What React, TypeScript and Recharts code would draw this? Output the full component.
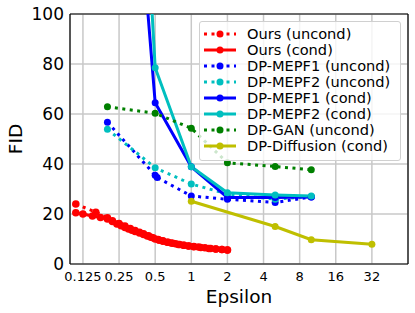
import React from "react";
import { LineChart, Line, XAxis, YAxis, CartesianGrid, ReferenceLine, Label } from "recharts";

const FONT = "'DejaVu Sans', sans-serif";

const epsTicks = [0.125, 0.25, 0.5, 1, 2, 4, 8, 16, 32];
const fidTicks = [0, 20, 40, 60, 80, 100];

type Pt = { eps: number; fid: number };

const oursUncond: Pt[] = [
  { eps: 0.109, fid: 24 }, { eps: 0.16, fid: 20.7 }, { eps: 0.2, fid: 18.5 }, { eps: 0.22, fid: 17.3 },
  { eps: 0.25, fid: 16.2 }, { eps: 0.28, fid: 15.2 }, { eps: 0.31, fid: 14.2 }, { eps: 0.34, fid: 13.4 },
  { eps: 0.37, fid: 12.7 }, { eps: 0.4, fid: 12.1 }, { eps: 0.44, fid: 11.3 }, { eps: 0.48, fid: 10.5 },
  { eps: 0.53, fid: 9.8 }, { eps: 0.58, fid: 9.3 }, { eps: 0.64, fid: 8.7 }, { eps: 0.7, fid: 8.3 },
  { eps: 0.78, fid: 7.8 }, { eps: 0.86, fid: 7.5 }, { eps: 0.95, fid: 7.2 }, { eps: 1.05, fid: 6.9 },
  { eps: 1.2, fid: 6.6 }, { eps: 1.4, fid: 6.2 }, { eps: 1.6, fid: 6.0 }, { eps: 1.8, fid: 5.8 },
  { eps: 2.0, fid: 5.6 },
];

const oursCond: Pt[] = [
  { eps: 0.109, fid: 20.5 }, { eps: 0.125, fid: 20.0 }, { eps: 0.15, fid: 19.2 }, { eps: 0.175, fid: 18.6 },
  { eps: 0.2, fid: 18.0 }, { eps: 0.22, fid: 17.0 }, { eps: 0.24, fid: 16.0 }, { eps: 0.26, fid: 15.3 },
  { eps: 0.28, fid: 14.6 }, { eps: 0.3, fid: 14.0 }, { eps: 0.32, fid: 13.5 }, { eps: 0.34, fid: 13.0 },
  { eps: 0.37, fid: 12.4 }, { eps: 0.4, fid: 11.8 }, { eps: 0.43, fid: 11.2 }, { eps: 0.46, fid: 10.7 },
  { eps: 0.5, fid: 10.0 }, { eps: 0.54, fid: 9.5 }, { eps: 0.58, fid: 9.1 }, { eps: 0.63, fid: 8.7 },
  { eps: 0.68, fid: 8.4 }, { eps: 0.74, fid: 8.1 }, { eps: 0.8, fid: 7.8 }, { eps: 0.87, fid: 7.5 },
  { eps: 0.95, fid: 7.2 }, { eps: 1.05, fid: 7.0 }, { eps: 1.15, fid: 6.8 }, { eps: 1.3, fid: 6.5 },
  { eps: 1.45, fid: 6.2 }, { eps: 1.6, fid: 6.0 }, { eps: 1.8, fid: 5.8 }, { eps: 2.0, fid: 5.6 },
];

const mepf1Uncond: Pt[] = [
  { eps: 0.2, fid: 56.7 }, { eps: 0.5, fid: 35.5 }, { eps: 0.52, fid: 34.6 }, { eps: 1, fid: 27.2 },
  { eps: 2, fid: 25.9 }, { eps: 5, fid: 24.6 }, { eps: 10, fid: 26.8 },
];

const mepf2Uncond: Pt[] = [
  { eps: 0.2, fid: 53.9 }, { eps: 0.5, fid: 38.5 }, { eps: 1, fid: 32.0 }, { eps: 2, fid: 28.0 },
  { eps: 5, fid: 25.9 }, { eps: 10, fid: 27.0 },
];

const mepf1Cond: Pt[] = [
  { eps: 0.2, fid: 300 }, { eps: 0.5, fid: 64.5 }, { eps: 1, fid: 38.9 }, { eps: 2, fid: 26.6 },
  { eps: 5, fid: 26.6 }, { eps: 10, fid: 26.8 },
];

const mepf2Cond: Pt[] = [
  { eps: 0.2, fid: 420 }, { eps: 0.5, fid: 78.5 }, { eps: 1, fid: 38.9 }, { eps: 2, fid: 28.5 },
  { eps: 5, fid: 27.6 }, { eps: 10, fid: 27.2 },
];

const dpganUncond: Pt[] = [
  { eps: 0.2, fid: 62.9 }, { eps: 0.5, fid: 60.3 }, { eps: 1, fid: 54.3 }, { eps: 2, fid: 40.5 },
  { eps: 5, fid: 39.0 }, { eps: 10, fid: 37.7 },
];

const dpDiffusionCond: Pt[] = [
  { eps: 1, fid: 25.1 }, { eps: 5, fid: 15.0 }, { eps: 10, fid: 9.7 }, { eps: 32, fid: 7.9 },
];

const series = [
  { name: "Ours (uncond)", color: "#ff0000", dotted: true, r: 3.8, data: oursUncond },
  { name: "Ours (cond)", color: "#ff0000", dotted: false, r: 3.8, data: oursCond },
  { name: "DP-MEPF1 (uncond)", color: "#0000ff", dotted: true, r: 3.5, data: mepf1Uncond },
  { name: "DP-MEPF2 (uncond)", color: "#00bfbf", dotted: true, r: 3.5, data: mepf2Uncond },
  { name: "DP-MEPF1 (cond)", color: "#0000ff", dotted: false, r: 3.5, data: mepf1Cond },
  { name: "DP-MEPF2 (cond)", color: "#00bfbf", dotted: false, r: 3.5, data: mepf2Cond },
  { name: "DP-GAN (uncond)", color: "#008000", dotted: true, r: 3.5, data: dpganUncond },
  { name: "DP-Diffusion (cond)", color: "#bfbf00", dotted: false, r: 3.5, data: dpDiffusionCond },
];

function LegendBox() {
  return (
    <div
      style={{
        position: "absolute",
        left: 199,
        top: 21,
        width: 202,
        paddingTop: 4,
        paddingBottom: 6,
        boxSizing: "border-box",
        background: "rgba(255,255,255,0.8)",
        border: "1px solid #d0d0d0",
        borderRadius: 3,
        fontFamily: FONT,
        fontSize: 14.6,
        color: "#000",
      }}
    >
      {series.map((s) => (
        <div key={s.name} style={{ display: "flex", alignItems: "center", height: 16.06, lineHeight: "16px", whiteSpace: "nowrap" }}>
          <svg width={44} height={16} style={{ flex: "none", marginLeft: 3 }}>
            <line
              x1={1}
              x2={33}
              y1={8}
              y2={8}
              stroke={s.color}
              strokeWidth={3}
              strokeDasharray={s.dotted ? "3 4.5" : undefined}
            />
            <circle cx={17} cy={8} r={3.5} fill={s.color} />
          </svg>
          <span>{s.name}</span>
        </div>
      ))}
    </div>
  );
}

export default function App() {
  return (
    <div style={{ position: "absolute", left: 0, top: 0, width: 415, height: 313, background: "#fff" }}>
      <LineChart width={415} height={313} margin={{ top: 14, right: 7, left: 0, bottom: 0 }}>
        <CartesianGrid stroke="#c8c8c8" strokeWidth={1.5} />
        <XAxis
          dataKey="eps"
          type="number"
          scale="log"
          domain={[0.0975, 64]}
          ticks={epsTicks}
          interval={0}
          allowDataOverflow
          height={49}
          tickLine={false}
          axisLine={{ stroke: "#000", strokeWidth: 1.2 }}
          tick={{ fontSize: 13, fill: "#000", fontFamily: FONT }}
        >
          <Label
            content={({ viewBox }: any) => (
              <text
                x={viewBox.x + viewBox.width / 2}
                y={303}
                textAnchor="middle"
                fontSize={18.5}
                fontFamily={FONT}
                fill="#000"
              >
                Epsilon
              </text>
            )}
          />
        </XAxis>
        <YAxis
          dataKey="fid"
          type="number"
          domain={[0, 100]}
          ticks={fidTicks}
          allowDataOverflow
          width={70}
          tickLine={false}
          tickSize={6}
          tickMargin={0}
          axisLine={{ stroke: "#000", strokeWidth: 1.2 }}
          tick={{ fontSize: 17, fill: "#000", fontFamily: FONT }}
        >
          <Label
            content={() => (
              <text
                x={15}
                y={139}
                transform="rotate(-90, 15, 139)"
                textAnchor="middle"
                dominantBaseline="central"
                fontSize={18.5}
                fontFamily={FONT}
                fill="#000"
              >
                FID
              </text>
            )}
          />
        </YAxis>
        <ReferenceLine y={100} stroke="#000" strokeWidth={1.2} />
        <ReferenceLine x={64} stroke="#000" strokeWidth={1.2} />
        {series.map((s) => (
          <Line
            key={s.name}
            data={s.data}
            dataKey="fid"
            name={s.name}
            type="linear"
            stroke={s.color}
            strokeWidth={3}
            strokeDasharray={s.dotted ? "3 4.5" : undefined}
            dot={{ r: s.r, fill: s.color, stroke: s.color, strokeWidth: 0 }}
            activeDot={false}
            isAnimationActive={false}
          />
        ))}
      </LineChart>
      <LegendBox />
    </div>
  );
}
